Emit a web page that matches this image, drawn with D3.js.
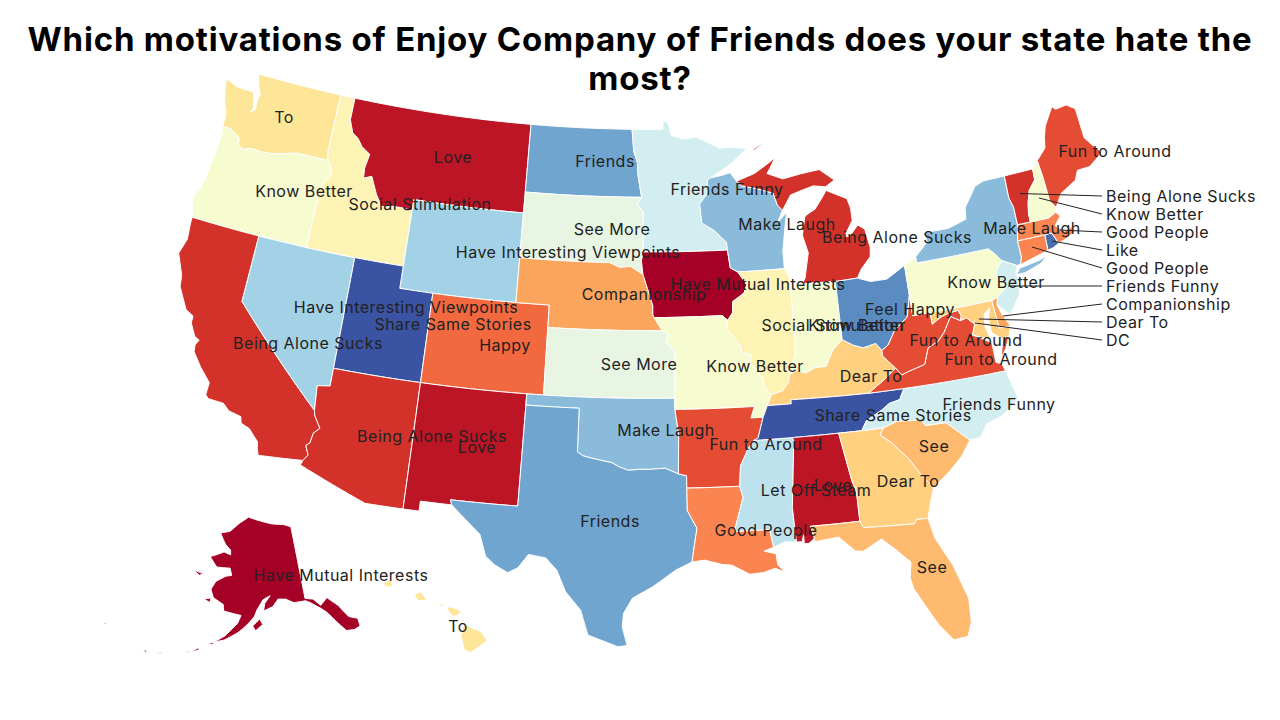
<!DOCTYPE html>
<html>
<head>
<meta charset="utf-8">
<title>Enjoy Company of Friends</title>
<script src="https://cdn.jsdelivr.net/npm/d3@7"></script>
<style>
  html, body { margin: 0; background: #fff; }
  text { font-family: Inter, "Open Sans", sans-serif; }
</style>
</head>
<body>
<div id="canvas"></div>
<script>
const titleLines = ["Which motivations of Enjoy Company of Friends does your state hate the", "most?"];

// motivations, ordered as they run through the colour ramp
const motivations = ["Have Mutual Interests", "Love", "Being Alone Sucks", "Fun to Around", "Happy", "Good People",
  "Companionship", "See", "Dear To", "To", "Social Stimulation", "Know Better", "See More", "Friends Funny",
  "Let Off Steam", "Have Interesting Viewpoints", "Make Laugh", "Friends", "Feel Happy", "Like", "Share Same Stories", "DC"];
const rampColors = ["#a50026", "#bb1526", "#d3322b", "#e44c34", "#f2683f", "#fa8550",
  "#fca55d", "#feba6e", "#fed07f", "#fee699", "#fdf3b4", "#f7fbd0", "#e8f5e2", "#d3eef0",
  "#bde2ee", "#a3d2e7", "#8abbdb", "#70a5d0", "#5a8cc2", "#4a6fb0", "#3b53a3", "#fdc070"];

const stateMotivation = {
  WA: "To", OR: "Know Better", CA: "Being Alone Sucks", NV: "Have Interesting Viewpoints", ID: "Social Stimulation",
  MT: "Love", WY: "Have Interesting Viewpoints", UT: "Share Same Stories", CO: "Happy", AZ: "Being Alone Sucks",
  NM: "Love", ND: "Friends", SD: "See More", NE: "Companionship", KS: "See More", OK: "Make Laugh", TX: "Friends",
  MN: "Friends Funny", IA: "Have Mutual Interests", MO: "Know Better", AR: "Fun to Around", LA: "Good People",
  WI: "Make Laugh", IL: "Social Stimulation", MS: "Let Off Steam", MI: "Being Alone Sucks", IN: "Know Better",
  KY: "Dear To", TN: "Share Same Stories", AL: "Love", OH: "Feel Happy", GA: "Dear To", FL: "See", SC: "See",
  NC: "Friends Funny", VA: "Fun to Around", WV: "Fun to Around", PA: "Know Better", NY: "Make Laugh", NJ: "Friends Funny",
  MD: "Dear To", DE: "Companionship", DC: "DC", CT: "Good People", RI: "Like", MA: "Good People", VT: "Being Alone Sucks",
  NH: "Know Better", ME: "Fun to Around", AK: "Have Mutual Interests", HI: "To"
};

// state outlines, read as lon/lat rings
const stateRings = {
  WA: [[[-124.73,48.38],[-123.9,48.17],[-123.1,48.15],[-122.75,48.15],[-122.6,47.9],[-122.45,47.4],[-122.6,47.25],[-122.3,47.4],[-122.35,47.9],[-122.25,48.1],[-122.5,48.45],[-122.75,49],[-117.03,49],[-117.04,46.42],[-116.92,46],[-118.98,46],[-119.3,45.93],[-120.5,45.7],[-121.2,45.65],[-121.9,45.68],[-122.3,45.55],[-122.75,45.65],[-122.8,46],[-123.2,46.15],[-123.5,46.27],[-124.05,46.27],[-124.05,46.65],[-124.1,46.9],[-124.35,47.3],[-124.6,47.9]]],
  OR: [[[-124.05,46.27],[-123.5,46.27],[-123.2,46.15],[-122.8,46],[-122.75,45.65],[-122.3,45.55],[-121.9,45.68],[-121.2,45.65],[-120.5,45.7],[-119.3,45.93],[-118.98,46],[-116.92,46],[-116.7,45.8],[-116.5,45.5],[-116.85,44.95],[-117.2,44.45],[-117.03,44.25],[-116.95,44.1],[-117.03,43.85],[-117.03,42],[-124.2,42],[-124.4,42.5],[-124.55,42.84],[-124.2,43.4],[-124.1,44],[-124.05,44.7],[-123.95,45.3],[-123.95,46]]],
  CA: [[[-124.2,42],[-120,42],[-120,39],[-114.63,35],[-114.57,34.8],[-114.15,34.27],[-114.45,34],[-114.53,33.55],[-114.72,33.4],[-114.5,33],[-114.72,32.72],[-117.12,32.53],[-117.25,32.85],[-117.3,33.1],[-117.9,33.6],[-118.4,33.75],[-118.5,34.03],[-119.2,34.15],[-119.6,34.42],[-120.47,34.45],[-120.65,34.6],[-120.63,35.15],[-121.3,35.7],[-121.9,36.3],[-121.95,36.6],[-121.8,36.85],[-122.1,36.96],[-122.5,37.5],[-122.5,37.8],[-123,38],[-123.7,38.9],[-123.8,39.4],[-124.35,40.3],[-124.1,41],[-124.2,41.75]]],
  NV: [[[-120,42],[-114.04,42],[-114.04,36.2],[-114.75,36.1],[-114.63,35],[-120,39]]],
  ID: [[[-117.03,49],[-116.05,49],[-116.05,48],[-115.72,47.45],[-115.3,47.25],[-114.95,46.93],[-114.35,46.65],[-114.5,46],[-114.45,45.55],[-113.95,45.7],[-113.45,44.95],[-113,44.45],[-112.3,44.55],[-111.5,44.55],[-111.05,44.48],[-111.05,42],[-114.04,42],[-117.03,42],[-117.03,43.85],[-116.95,44.1],[-117.03,44.25],[-117.2,44.45],[-116.85,44.95],[-116.5,45.5],[-116.7,45.8],[-116.92,46],[-117.04,46.42]]],
  MT: [[[-116.05,49],[-104.05,49],[-104.05,45],[-111.05,45],[-111.05,44.48],[-111.5,44.55],[-112.3,44.55],[-113,44.45],[-113.45,44.95],[-113.95,45.7],[-114.45,45.55],[-114.5,46],[-114.35,46.65],[-114.95,46.93],[-115.3,47.25],[-115.72,47.45],[-116.05,48]]],
  WY: [[[-111.05,45],[-104.05,45],[-104.05,41],[-111.05,41]]],
  UT: [[[-114.04,42],[-111.05,42],[-111.05,41],[-109.05,41],[-109.05,37],[-114.04,37]]],
  CO: [[[-109.05,41],[-102.05,41],[-102.05,37],[-109.05,37]]],
  AZ: [[[-114.04,37],[-109.05,37],[-109.05,31.33],[-111.07,31.33],[-114.8,32.5],[-114.72,32.72],[-114.5,33],[-114.72,33.4],[-114.53,33.55],[-114.45,34],[-114.15,34.27],[-114.57,34.8],[-114.63,35],[-114.75,36.1],[-114.04,36.2]]],
  NM: [[[-109.05,37],[-103,37],[-103.04,32],[-106.62,32],[-106.53,31.78],[-108.2,31.78],[-108.2,31.33],[-109.05,31.33]]],
  ND: [[[-104.05,49],[-97.23,49],[-97.1,48],[-96.85,47.5],[-96.8,46.9],[-96.56,45.94],[-104.05,45.94]]],
  SD: [[[-104.05,45.94],[-96.56,45.94],[-96.85,45.6],[-96.45,45.3],[-96.45,43.5],[-96.55,43.1],[-96.45,42.5],[-97.2,42.85],[-97.9,42.8],[-98.5,43],[-104.05,43]]],
  NE: [[[-104.05,43],[-98.5,43],[-97.9,42.8],[-97.2,42.85],[-96.45,42.5],[-96.1,41.7],[-95.85,41.1],[-95.85,40.7],[-95.77,40.58],[-95.3,40],[-102.05,40],[-102.05,41],[-104.05,41]]],
  KS: [[[-102.05,40],[-95.3,40],[-94.9,39.8],[-95.1,39.5],[-94.6,39.1],[-94.62,37],[-102.05,37]]],
  OK: [[[-103,37],[-94.62,37],[-94.62,36.5],[-94.43,35.4],[-94.48,33.64],[-95.2,33.9],[-96,33.85],[-96.6,33.85],[-97.2,33.8],[-97.7,33.95],[-98.1,34.13],[-99.2,34.3],[-99.7,34.4],[-100,34.56],[-100,36.5],[-103,36.5]]],
  TX: [[[-106.62,32],[-103.04,32],[-103,36.5],[-100,36.5],[-100,34.56],[-99.7,34.4],[-99.2,34.3],[-98.1,34.13],[-97.7,33.95],[-97.2,33.8],[-96.6,33.85],[-96,33.85],[-95.2,33.9],[-94.48,33.64],[-94.04,33.55],[-94.04,33],[-94.04,32],[-93.55,31.2],[-93.7,30.5],[-93.85,29.7],[-94.7,29.35],[-95.1,29.1],[-95.9,28.6],[-96.9,28.1],[-97.35,27.4],[-97.4,26.8],[-97.15,25.96],[-97.6,25.9],[-99.1,26.4],[-99.5,27.5],[-100.3,28.3],[-100.8,29.25],[-101.4,29.77],[-102.3,29.88],[-102.8,29.25],[-103.3,29],[-104,29.3],[-104.5,29.65],[-104.9,30.6],[-106,31.4],[-106.53,31.78]]],
  MN: [[[-97.23,49],[-95.15,49],[-95.15,49.38],[-94.8,49.3],[-94.6,48.72],[-93.8,48.55],[-92.95,48.62],[-92,48.3],[-91.4,48.07],[-90.75,48.1],[-89.6,48],[-90.8,47.3],[-92.1,46.75],[-92.3,46.66],[-92.3,46.1],[-92.85,45.6],[-92.75,44.75],[-92,44.4],[-91.25,43.85],[-91.22,43.5],[-96.45,43.5],[-96.45,45.3],[-96.85,45.6],[-96.56,45.94],[-96.8,46.9],[-96.85,47.5],[-97.1,48]]],
  IA: [[[-96.45,43.5],[-91.22,43.5],[-91.1,42.7],[-90.65,42.5],[-90.15,41.9],[-90.35,41.55],[-91.05,41.2],[-91.1,40.7],[-91.42,40.38],[-91.72,40.6],[-95.77,40.58],[-95.85,40.7],[-95.85,41.1],[-96.1,41.7],[-96.45,42.5],[-96.55,43.1]]],
  MO: [[[-95.77,40.58],[-91.72,40.6],[-91.42,40.38],[-91.5,40],[-90.75,39.25],[-90.7,38.95],[-90.15,38.8],[-90.2,38.4],[-89.55,37.7],[-89.5,37.3],[-89.13,36.98],[-89.42,36.5],[-89.7,36],[-90.38,36],[-90.15,36.5],[-94.62,36.5],[-94.62,37],[-94.6,39.1],[-95.1,39.5],[-94.9,39.8],[-95.3,40]]],
  AR: [[[-94.62,36.5],[-90.15,36.5],[-90.38,36],[-89.7,36],[-90.05,35.1],[-90.6,34.7],[-91.1,33.9],[-91.2,33],[-94.04,33],[-94.04,33.55],[-94.48,33.64],[-94.43,35.4]]],
  LA: [[[-94.04,33],[-91.2,33],[-91.05,32.5],[-91.6,31],[-89.75,31],[-89.6,30.2],[-90.1,30.05],[-89.5,29.9],[-89.45,29.4],[-89.1,29.05],[-89.6,29.25],[-90.2,29.1],[-90.9,29.05],[-91.8,29.5],[-92.3,29.55],[-93.2,29.77],[-93.85,29.7],[-93.7,30.5],[-93.55,31.2],[-94.04,32]]],
  WI: [[[-92.3,46.66],[-92.1,46.75],[-91.2,46.87],[-90.8,46.95],[-90.4,46.55],[-90.1,46.33],[-89.1,46.15],[-88.1,45.9],[-87.9,45.35],[-87.6,45.1],[-88,44.55],[-87.35,45],[-87.55,44.3],[-87.8,43.3],[-87.8,42.5],[-90.65,42.5],[-91.1,42.7],[-91.22,43.5],[-91.25,43.85],[-92,44.4],[-92.75,44.75],[-92.85,45.6],[-92.3,46.1]]],
  IL: [[[-90.65,42.5],[-87.8,42.5],[-87.55,42.05],[-87.53,41.7],[-87.53,39.35],[-87.6,38.7],[-88.05,37.8],[-88.1,37.5],[-88.5,37.1],[-89.13,36.98],[-89.5,37.3],[-89.55,37.7],[-90.2,38.4],[-90.15,38.8],[-90.7,38.95],[-90.75,39.25],[-91.5,40],[-91.42,40.38],[-91.1,40.7],[-91.05,41.2],[-90.35,41.55],[-90.15,41.9]]],
  MS: [[[-91.2,33],[-91.1,33.9],[-90.6,34.7],[-90.3,35],[-88.2,35],[-88.1,34.9],[-88.47,31.9],[-88.4,30.35],[-89,30.4],[-89.6,30.2],[-89.75,31],[-91.6,31],[-91.05,32.5]]],
  MI: [[[-86.8,41.76],[-84.8,41.7],[-83.45,41.73],[-83.15,42.1],[-82.5,42.6],[-82.42,43],[-82.6,43.85],[-83,44.07],[-83.6,43.6],[-83.9,43.65],[-83.3,44.3],[-83.3,44.85],[-83.45,45.3],[-84.7,45.78],[-85.1,45.4],[-85.55,45],[-86.1,44.8],[-86.25,44.7],[-86.5,43.9],[-86.25,43.1],[-86.6,42]],
       [[-90.4,46.55],[-89.2,46.85],[-88.5,47.15],[-87.8,47.47],[-88.2,47],[-88.4,46.8],[-87.4,46.5],[-86.2,46.65],[-85,46.75],[-84.5,46.45],[-84.1,46.2],[-84.7,45.95],[-85.5,46.05],[-86.3,45.9],[-87,45.75],[-87.6,45.1],[-87.9,45.35],[-88.1,45.9],[-89.1,46.15],[-90.1,46.33]],
       [[-89.2,47.85],[-88.45,48.17],[-88.6,48.15],[-89.15,47.95]]],
  IN: [[[-87.53,41.7],[-87.2,41.75],[-86.8,41.76],[-84.8,41.7],[-84.8,39.1],[-85.4,38.7],[-85.9,38],[-86.5,38],[-87.1,37.8],[-87.6,37.95],[-88.05,37.8],[-87.6,38.7],[-87.53,39.35]]],
  KY: [[[-89.42,36.5],[-89.13,36.98],[-88.5,37.1],[-88.1,37.5],[-88.05,37.8],[-87.6,37.95],[-87.1,37.8],[-86.5,38],[-85.9,38],[-85.4,38.7],[-84.8,39.1],[-84.2,38.8],[-83.65,38.63],[-82.9,38.75],[-82.6,38.4],[-82.6,38.15],[-81.97,37.54],[-82.7,37.1],[-83.68,36.6],[-88.07,36.68],[-88.07,36.5]]],
  TN: [[[-90.3,35],[-90.05,35.1],[-89.7,36],[-89.42,36.5],[-88.07,36.5],[-88.07,36.68],[-83.68,36.6],[-81.68,36.59],[-82,36.13],[-82.6,36.03],[-83.1,35.77],[-84,35.4],[-84.32,34.99],[-85.6,35],[-88.2,35]]],
  AL: [[[-88.2,35],[-85.6,35],[-85.18,32.87],[-85,32.3],[-85,31],[-87.6,31],[-87.45,30.45],[-87.75,30.25],[-88,30.25],[-88,30.65],[-88.1,30.35],[-88.4,30.35],[-88.47,31.9],[-88.1,34.9]]],
  OH: [[[-84.8,41.7],[-83.45,41.73],[-82.7,41.5],[-81.7,41.5],[-80.52,41.98],[-80.52,40.64],[-80.85,39.7],[-81.7,39.2],[-82.2,38.6],[-82.6,38.4],[-82.9,38.75],[-83.65,38.63],[-84.2,38.8],[-84.8,39.1]]],
  GA: [[[-85.6,35],[-84.32,34.99],[-83.1,35],[-83.35,34.7],[-82.8,34.3],[-82,33.5],[-81.4,32.6],[-80.9,32.05],[-81.15,31.5],[-81.45,30.72],[-82.05,30.75],[-82.2,30.57],[-84.86,30.7],[-85,31],[-85,32.3],[-85.18,32.87]]],
  FL: [[[-87.6,31],[-85,31],[-84.86,30.7],[-82.2,30.57],[-82.05,30.75],[-81.45,30.72],[-81.25,29.8],[-80.55,28.45],[-80.05,26.9],[-80.12,25.8],[-80.4,25.2],[-81.1,25.15],[-81.7,25.9],[-82.15,26.7],[-82.7,27.7],[-82.8,28.2],[-82.65,28.9],[-83.4,29.6],[-84,30.1],[-85,29.65],[-85.4,29.7],[-86.2,30.4],[-87.45,30.3],[-87.45,30.45]]],
  SC: [[[-83.1,35],[-82.3,35.2],[-81.05,35.1],[-80.8,34.82],[-79.67,34.8],[-78.55,33.85],[-79.15,33.2],[-79.9,32.65],[-80.9,32.05],[-81.4,32.6],[-82,33.5],[-82.8,34.3],[-83.35,34.7]]],
  NC: [[[-84.32,34.99],[-84,35.4],[-83.1,35.77],[-82.6,36.03],[-82,36.13],[-81.68,36.59],[-75.87,36.55],[-75.5,35.25],[-76.5,34.65],[-77.5,34.4],[-77.95,33.87],[-78.55,33.85],[-79.67,34.8],[-80.8,34.82],[-81.05,35.1],[-82.3,35.2],[-83.1,35]]],
  VA: [[[-83.68,36.6],[-82.7,37.1],[-81.97,37.54],[-81.68,37.2],[-81.3,37.3],[-80.3,37.5],[-79.95,38.2],[-79.3,38.42],[-78.87,38.77],[-78.35,39.4],[-77.83,39.13],[-77.45,39.2],[-77.05,38.85],[-77.3,38.4],[-76.3,37.9],[-76.3,37],[-76,36.9],[-75.87,36.55],[-81.68,36.59]],
       [[-75.95,37.15],[-75.65,37.95],[-75.25,38.03],[-75.6,37.5]]],
  WV: [[[-82.6,38.15],[-82.6,38.4],[-82.2,38.6],[-81.7,39.2],[-80.85,39.7],[-80.52,40.64],[-80.52,39.72],[-79.48,39.72],[-79.48,39.2],[-78.9,39.45],[-78.45,39.55],[-77.85,39.6],[-77.72,39.32],[-77.83,39.13],[-78.35,39.4],[-78.87,38.77],[-79.3,38.42],[-79.95,38.2],[-80.3,37.5],[-81.3,37.3],[-81.68,37.2],[-81.97,37.54]]],
  PA: [[[-80.52,41.98],[-79.76,42.27],[-79.76,42],[-75.35,42],[-75.05,41.75],[-74.7,41.36],[-75.13,40.98],[-75.2,40.7],[-74.75,40.2],[-75.42,39.8],[-75.79,39.72],[-80.52,39.72]]],
  NY: [[[-79.76,42],[-79.76,42.27],[-78.9,42.85],[-79.05,43.27],[-77.5,43.25],[-76.3,43.5],[-76.2,44],[-75.3,44.85],[-74.7,45],[-73.35,45],[-73.4,44],[-73.25,43.55],[-73.27,42.75],[-73.5,42.05],[-73.5,41.3],[-73.65,41],[-73.9,41],[-74.7,41.36],[-75.05,41.75],[-75.35,42]],
       [[-74,40.6],[-73.75,40.85],[-72.6,40.97],[-72,41.08],[-72.5,40.82],[-73.5,40.6]]],
  NJ: [[[-74.7,41.36],[-73.9,41],[-74.05,40.65],[-74,40.45],[-74.1,39.75],[-74.9,38.93],[-75.55,39.5],[-75.42,39.8],[-74.75,40.2],[-75.2,40.7],[-75.13,40.98]]],
  MD: [[[-79.48,39.72],[-75.79,39.72],[-75.7,38.46],[-75.05,38.45],[-75.25,38.03],[-75.65,37.95],[-76.2,38.35],[-76.2,38.95],[-76,39.45],[-76.4,39.2],[-76.5,38.7],[-76.32,38.04],[-77.3,38.4],[-77.05,38.85],[-77.45,39.2],[-77.83,39.13],[-77.72,39.32],[-77.85,39.6],[-78.45,39.55],[-78.9,39.45],[-79.48,39.2]]],
  DE: [[[-75.79,39.72],[-75.42,39.8],[-75.55,39.5],[-75.4,39.05],[-75.05,38.45],[-75.7,38.46]]],
  DC: [[[-77.12,38.93],[-77.04,39],[-76.91,38.89],[-77.04,38.79]]],
  CT: [[[-73.5,42.05],[-71.8,42.02],[-71.85,41.32],[-73.65,41],[-73.5,41.3]]],
  RI: [[[-71.8,42.02],[-71.38,42.02],[-71.12,41.5],[-71.5,41.37],[-71.85,41.32]]],
  MA: [[[-73.5,42.05],[-73.27,42.75],[-72.46,42.73],[-71.3,42.7],[-70.82,42.87],[-70.6,42.65],[-71.05,42.3],[-70.6,41.95],[-70.05,42.05],[-70,41.8],[-70.65,41.6],[-71.12,41.5],[-71.38,42.02],[-71.8,42.02]]],
  VT: [[[-73.35,45],[-71.5,45],[-71.55,44.5],[-72.05,44.1],[-72.3,43.6],[-72.45,43.1],[-72.46,42.73],[-73.27,42.75],[-73.25,43.55],[-73.4,44]]],
  NH: [[[-71.5,45],[-71.08,45.3],[-71,44.5],[-70.98,43.4],[-70.7,43.07],[-70.82,42.87],[-71.3,42.7],[-72.46,42.73],[-72.45,43.1],[-72.3,43.6],[-72.05,44.1],[-71.55,44.5]]],
  ME: [[[-71.08,45.3],[-70.4,45.75],[-70.25,46.2],[-70,46.7],[-69.23,47.46],[-69.05,47.3],[-68.3,47.35],[-67.8,47.07],[-67.8,45.7],[-67.45,45.3],[-67,44.85],[-68,44.4],[-68.8,44.4],[-69.1,44],[-69.8,43.75],[-70.2,43.6],[-70.7,43.07],[-70.98,43.4],[-71,44.5]]],
  AK: [[[-141,69.65],[-143.5,70.1],[-148,70.4],[-152,70.85],[-156.6,71.35],[-160,70.45],[-163,69.3],[-166.2,68.9],[-164,67.6],[-162,66.9],[-161.8,66.3],[-164,66.55],[-168,65.65],[-165.5,64.5],[-161.5,64.6],[-160.8,63.7],[-162.5,63.5],[-165,62.7],[-166,61.6],[-165,60.6],[-162.2,59.9],[-161.9,59.1],[-157.5,58.7],[-158.2,57.7],[-161,55.9],[-163.2,55],[-161,55.4],[-158,56.5],[-156,57.5],[-154.2,58.6],[-153.5,59.5],[-152,60.7],[-151,61],[-150,61.2],[-151.5,60.3],[-151.9,59.3],[-149.5,59.8],[-148,60.7],[-146,60.6],[-144,60],[-141,60],[-139.8,59.6],[-137.6,58.6],[-136.4,57.9],[-134.6,56.2],[-133.3,55],[-131.5,54.8],[-130.1,55],[-130,56],[-131.8,56.6],[-133.4,58.4],[-135.5,59.75],[-137.5,59],[-139,60],[-141,60.3]],
       [[-154.6,57.4],[-153.9,56.8],[-152.2,57.6],[-152.9,58.3]],
       [[-167.3,60.2],[-165.5,60.5],[-165.7,59.9]],
       [[-171.7,63.5],[-168.8,63.3],[-170,63]],
       [[-164.9,54.6],[-163.2,55],[-163.3,54.7]],
       [[-167.8,53.3],[-166.2,54],[-166.3,53.6]],
       [[-169,52.9],[-168,53.5],[-168.2,53.2]],
       [[-174.9,52.1],[-173.5,52.2],[-174,52.0]],
       [[-177.5,51.8],[-176.5,51.9],[-176.9,51.6]],
       [[172.5,52.9],[173.4,52.95],[172.9,52.75]]],
  HI: [[[-155.9,20.25],[-155.6,20.1],[-155.1,19.9],[-154.8,19.5],[-155.6,18.95],[-155.9,19.1],[-156.05,19.75]],
       [[-156.7,20.9],[-156.6,21.03],[-156.25,20.93],[-156,20.75],[-156.4,20.58]],
       [[-157.3,21.1],[-156.75,21.17],[-156.9,21.05]],
       [[-158.27,21.57],[-157.97,21.7],[-157.65,21.3],[-158.1,21.3]],
       [[-159.78,22.07],[-159.4,22.23],[-159.3,21.95],[-159.6,21.9]]]
};

// where each state's name sits on the page
const labelAt = {
  WA: [284,117], OR: [304,191], CA: [308,343], NV: [406,307], ID: [420,204], MT: [453,157], WY: [568,252], UT: [453,324],
  CO: [505,345], AZ: [432,436], NM: [477,447], ND: [605,161], SD: [612,229], NE: [644,294], KS: [639,364], OK: [666,430],
  TX: [610,521], MN: [727,189], IA: [758,284], MO: [755,366], AR: [766,444], LA: [766,530], WI: [787,224], IL: [833,325],
  MS: [816,490], MI: [897,237], IN: [857,325], KY: [871,376], TN: [893,415], AL: [833,485], OH: [910,309], GA: [908,481],
  FL: [932,567], SC: [934,446], NC: [999,404], VA: [1001,359], WV: [966,340], PA: [996,282], NY: [1032,228], ME: [1115,151],
  AK: [341,575], HI: [458,626]
};

// small eastern states are listed to the right with a leader line
const calloutStates = ["VT", "NH", "MA", "RI", "CT", "NJ", "DE", "MD", "DC"];
const calloutFrom = [[1020,193.5],[1039,198],[1060,230],[1052,241],[1032,247],[1008,286],[1003,316],[979,319],[975,323]];
const calloutX = 1106, calloutTop = 196, calloutStep = 18;

const width = 1280, height = 720;
const svg = d3.select("#canvas").append("svg").attr("width", width).attr("height", height);

const color = d3.scaleOrdinal().domain(motivations).range(rampColors);
const projection = d3.geoAlbersUsa().scale(1280).translate([640, 360]);
const path = d3.geoPath(projection);

// borders follow parallels, not great circles, so walk each edge in small steps
const walkRing = ring => {
  const out = [];
  ring.forEach((p, i) => {
    const q = ring[(i + 1) % ring.length];
    const steps = Math.max(1, Math.ceil(Math.max(Math.abs(q[0] - p[0]), Math.abs(q[1] - p[1])) / 0.5));
    for (let s = 0; s < steps; s++) {
      const t = s / steps;
      out.push([p[0] + (q[0] - p[0]) * t, p[1] + (q[1] - p[1]) * t]);
    }
  });
  out.push(out[0].slice());
  return out;
};
const toPolygon = ring => {
  const closed = walkRing(ring);
  const coords = [closed];
  if (d3.geoArea({ type: "Polygon", coordinates: coords }) > 2 * Math.PI) closed.reverse();
  return coords;
};
const states = Object.keys(stateRings).map(code => ({
  type: "Feature",
  id: code,
  geometry: { type: "MultiPolygon", coordinates: stateRings[code].map(toPolygon) }
}));

svg.append("g").selectAll("path").data(states).enter().append("path")
  .attr("d", path)
  .attr("fill", d => color(stateMotivation[d.id]))
  .attr("stroke", "#fff")
  .attr("stroke-width", 1)
  .attr("stroke-linejoin", "round");

svg.append("g").selectAll("line").data(calloutStates).enter().append("line")
  .attr("x1", (d, i) => calloutFrom[i][0])
  .attr("y1", (d, i) => calloutFrom[i][1])
  .attr("x2", calloutX - 4)
  .attr("y2", (d, i) => calloutTop + i * calloutStep)
  .attr("stroke", "#222")
  .attr("stroke-width", 1);

const labels = svg.append("g").attr("font-size", 16).attr("fill", "#222").style("letter-spacing", "0.5px");
labels.selectAll("text.state").data(Object.keys(labelAt)).enter().append("text")
  .attr("class", "state")
  .attr("x", d => labelAt[d][0])
  .attr("y", d => labelAt[d][1] + 5.5)
  .attr("text-anchor", "middle")
  .text(d => stateMotivation[d]);
labels.selectAll("text.callout").data(calloutStates).enter().append("text")
  .attr("class", "callout")
  .attr("x", calloutX)
  .attr("y", (d, i) => calloutTop + i * calloutStep + 5.5)
  .text(d => stateMotivation[d]);

svg.append("g").selectAll("text").data(titleLines).enter().append("text")
  .attr("x", 640)
  .attr("y", (d, i) => 51 + i * 38.5)
  .attr("text-anchor", "middle")
  .attr("font-size", 33)
  .attr("font-weight", 700)
  .attr("fill", "#000")
  .style("letter-spacing", "0.8px")
  .text(d => d);
</script>
</body>
</html>
